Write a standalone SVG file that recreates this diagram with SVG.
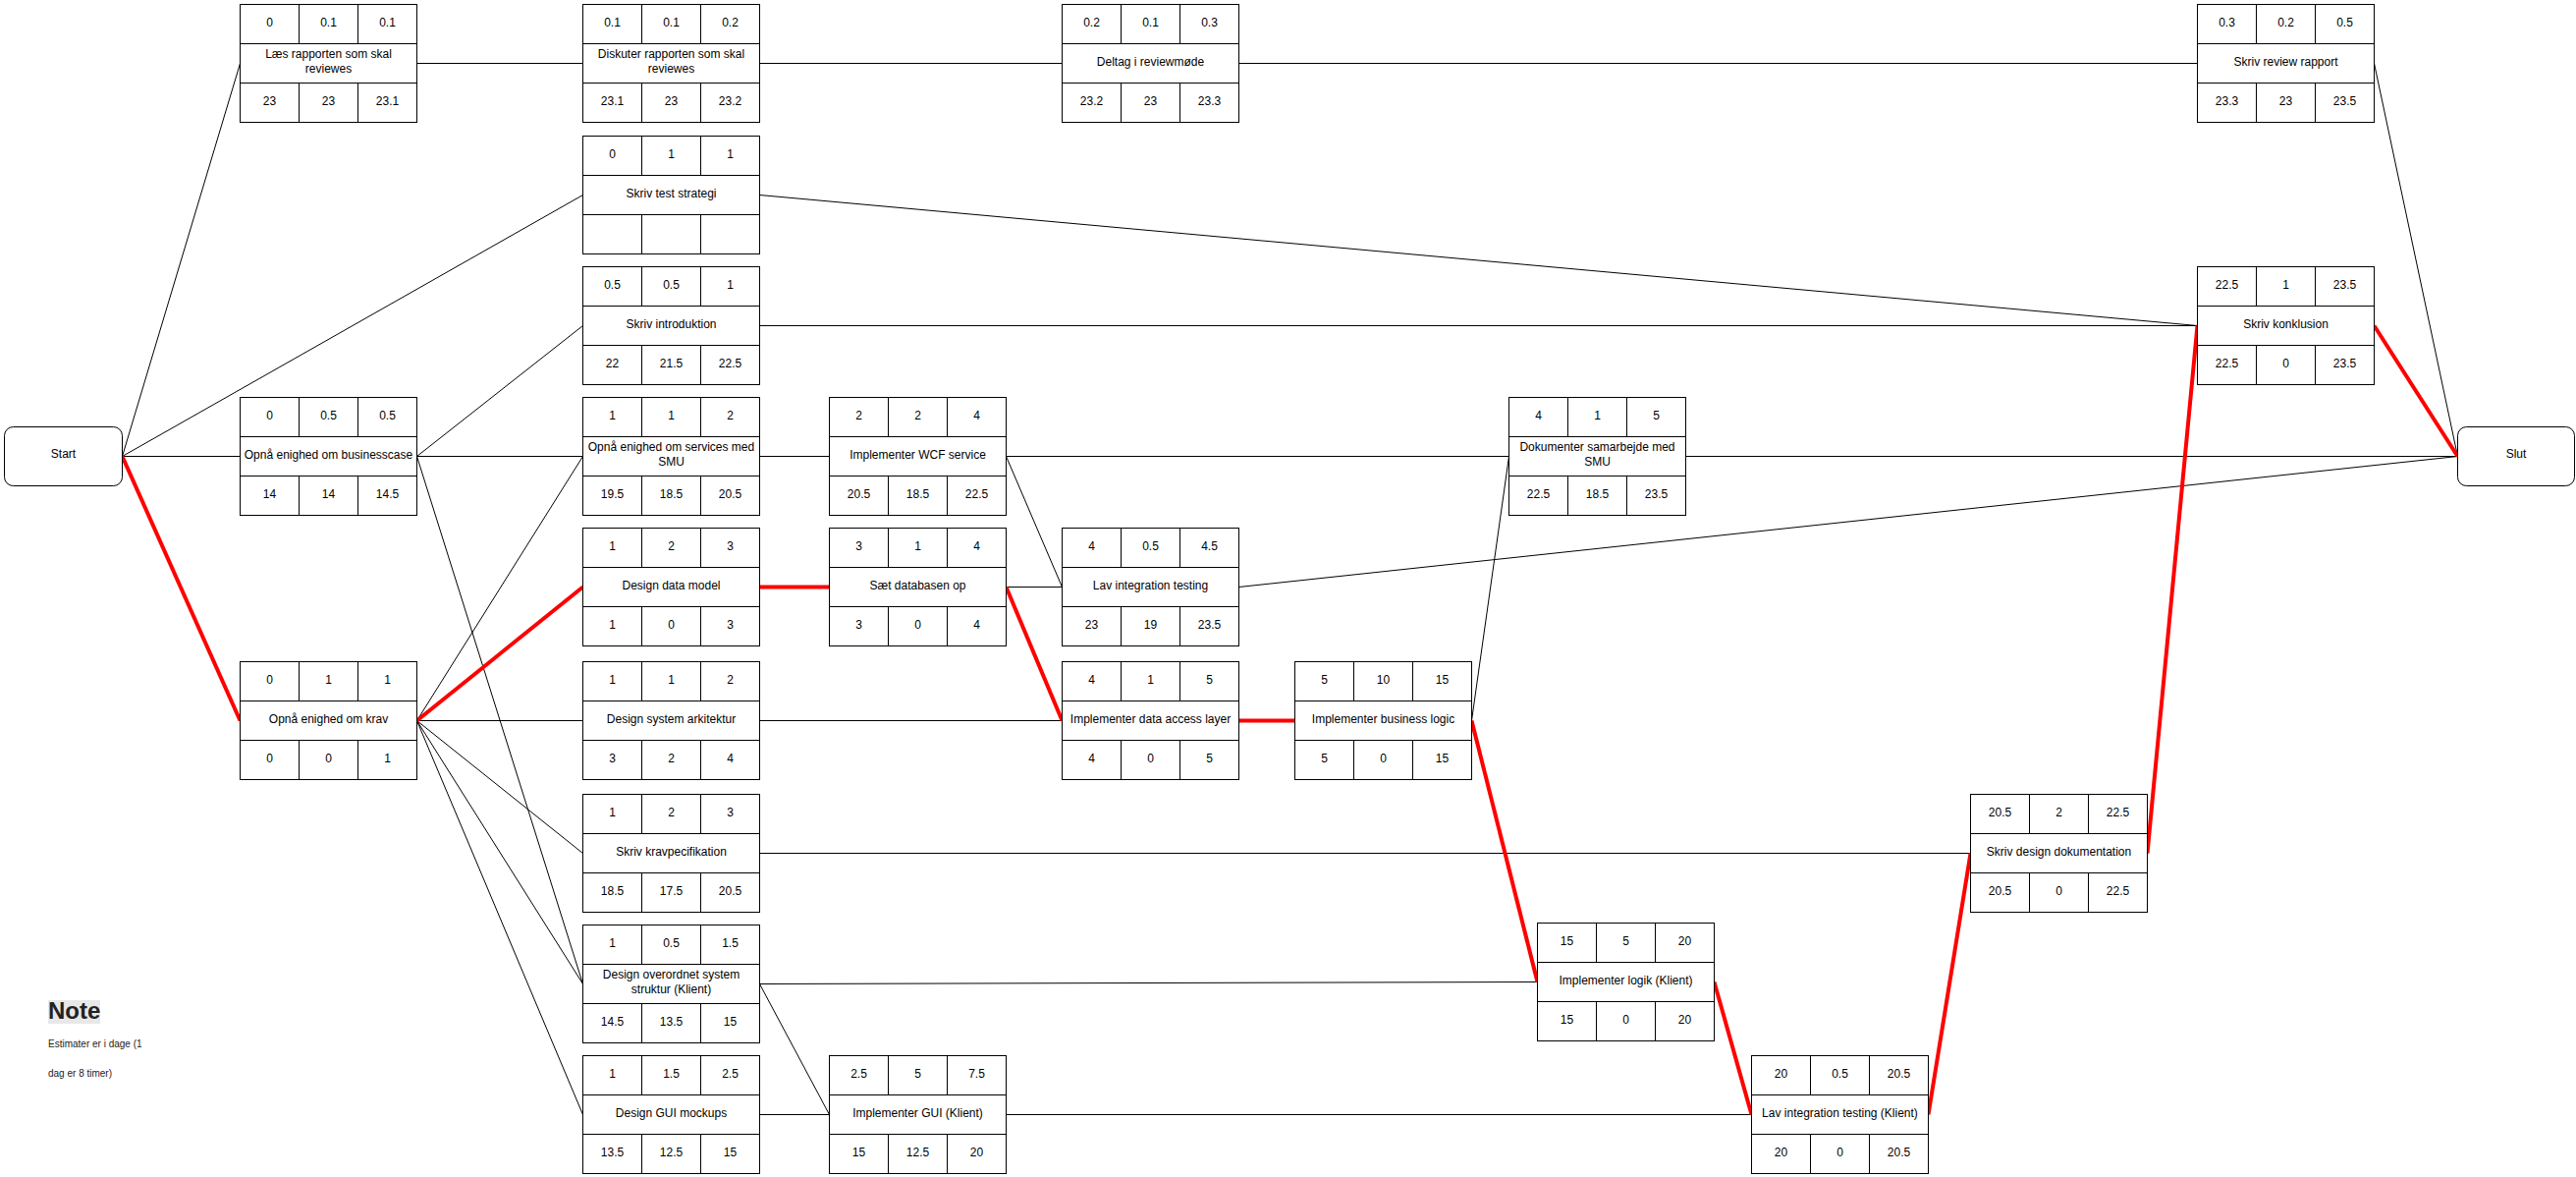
<svg xmlns="http://www.w3.org/2000/svg" xmlns:xlink="http://www.w3.org/1999/xlink" width="2623" height="1198" viewBox="0 0 2623 1198">
<style>
.box{fill:#fff;stroke:#000;stroke-width:1}
.div{fill:none;stroke:#000;stroke-width:1}
.t{font-family:"Liberation Sans",Arial,Helvetica,sans-serif;font-size:12px;text-anchor:middle;fill:#000}
.c{fill:none;stroke:#000;stroke-width:1}
.cr{fill:none;stroke:#ff0000;stroke-width:4}
.note{font-family:"Liberation Sans",Arial,Helvetica,sans-serif;fill:#222}
</style>
<defs>
<g id="frame">
<rect class="box" x="0" y="0" width="180" height="120"/>
<path class="div" d="M0 40H180M0 80H180M60 0V40M120 0V40M60 80V120M120 80V120"/>
</g>
</defs>
<rect width="2623" height="1198" fill="#fff"/>
<g id="connectors">
<path class="c" d="M124.5 464.5L244.5 64.5"/>
<path class="c" d="M124.5 464.5L593.5 198.5"/>
<path class="c" d="M124.5 464.5L244.5 464.5"/>
<path class="c" d="M424.5 464.5L593.5 331.5"/>
<path class="c" d="M424.5 464.5L593.5 464.5"/>
<path class="c" d="M424.5 464.5L593.5 1001.5"/>
<path class="c" d="M424.5 733.5L593.5 464.5"/>
<path class="c" d="M424.5 733.5L593.5 733.5"/>
<path class="c" d="M424.5 733.5L593.5 868.5"/>
<path class="c" d="M424.5 733.5L593.5 1001.5"/>
<path class="c" d="M424.5 733.5L593.5 1134.5"/>
<path class="c" d="M424.5 64.5L593.5 64.5"/>
<path class="c" d="M773.5 64.5L1081.5 64.5"/>
<path class="c" d="M1261.5 64.5L2237.5 64.5"/>
<path class="c" d="M2417.5 64.5L2502.5 464.5"/>
<path class="c" d="M773.5 198.5L2237.5 331.5"/>
<path class="c" d="M773.5 331.5L2237.5 331.5"/>
<path class="c" d="M773.5 464.5L844.5 464.5"/>
<path class="c" d="M1024.5 464.5L1536.5 464.5"/>
<path class="c" d="M1024.5 464.5L1081.5 597.5"/>
<path class="c" d="M1716.5 464.5L2502.5 464.5"/>
<path class="c" d="M1024.5 597.5L1081.5 597.5"/>
<path class="c" d="M1261.5 597.5L2502.5 464.5"/>
<path class="c" d="M773.5 733.5L1081.5 733.5"/>
<path class="c" d="M1498.5 733.5L1536.5 464.5"/>
<path class="c" d="M773.5 868.5L2006.5 868.5"/>
<path class="c" d="M773.5 1001.5L1565.5 999.5"/>
<path class="c" d="M773.5 1001.5L844.5 1134.5"/>
<path class="c" d="M773.5 1134.5L844.5 1134.5"/>
<path class="c" d="M1024.5 1134.5L1783.5 1134.5"/>
<path class="cr" d="M124.5 464.5L244.5 733.5"/>
<path class="cr" d="M424.5 733.5L593.5 597.5"/>
<path class="cr" d="M773.5 597.5L844.5 597.5"/>
<path class="cr" d="M1024.5 597.5L1081.5 733.5"/>
<path class="cr" d="M1261.5 733.5L1318.5 733.5"/>
<path class="cr" d="M1498.5 733.5L1565.5 999.5"/>
<path class="cr" d="M1745.5 999.5L1783.5 1134.5"/>
<path class="cr" d="M1963.5 1134.5L2006.5 868.5"/>
<path class="cr" d="M2186.5 868.5L2237.5 331.5"/>
<path class="cr" d="M2417.5 331.5L2502.5 464.5"/>
</g>
<g id="start">
<rect class="box" x="4.5" y="434.5" width="120" height="60" rx="9" ry="9"/>
<text class="t" x="64.5" y="466">Start</text>
</g>
<g id="slut">
<rect class="box" x="2502.5" y="434.5" width="119" height="60" rx="9" ry="9"/>
<text class="t" x="2562" y="466">Slut</text>
</g>
<g id="n-laes" transform="translate(244.5,4.5)">
<use xlink:href="#frame"/>
<text class="t" x="30" y="22">0</text><text class="t" x="90" y="22">0.1</text><text class="t" x="150" y="22">0.1</text>
<text class="t" x="90" y="54">Læs rapporten som skal</text><text class="t" x="90" y="69">reviewes</text>
<text class="t" x="30" y="102">23</text><text class="t" x="90" y="102">23</text><text class="t" x="150" y="102">23.1</text>
</g>
<g id="n-diskuter" transform="translate(593.5,4.5)">
<use xlink:href="#frame"/>
<text class="t" x="30" y="22">0.1</text><text class="t" x="90" y="22">0.1</text><text class="t" x="150" y="22">0.2</text>
<text class="t" x="90" y="54">Diskuter rapporten som skal</text><text class="t" x="90" y="69">reviewes</text>
<text class="t" x="30" y="102">23.1</text><text class="t" x="90" y="102">23</text><text class="t" x="150" y="102">23.2</text>
</g>
<g id="n-deltag" transform="translate(1081.5,4.5)">
<use xlink:href="#frame"/>
<text class="t" x="30" y="22">0.2</text><text class="t" x="90" y="22">0.1</text><text class="t" x="150" y="22">0.3</text>
<text class="t" x="90" y="62">Deltag i reviewmøde</text>
<text class="t" x="30" y="102">23.2</text><text class="t" x="90" y="102">23</text><text class="t" x="150" y="102">23.3</text>
</g>
<g id="n-review-rapport" transform="translate(2237.5,4.5)">
<use xlink:href="#frame"/>
<text class="t" x="30" y="22">0.3</text><text class="t" x="90" y="22">0.2</text><text class="t" x="150" y="22">0.5</text>
<text class="t" x="90" y="62">Skriv review rapport</text>
<text class="t" x="30" y="102">23.3</text><text class="t" x="90" y="102">23</text><text class="t" x="150" y="102">23.5</text>
</g>
<g id="n-test-strategi" transform="translate(593.5,138.5)">
<use xlink:href="#frame"/>
<text class="t" x="30" y="22">0</text><text class="t" x="90" y="22">1</text><text class="t" x="150" y="22">1</text>
<text class="t" x="90" y="62">Skriv test strategi</text>
</g>
<g id="n-introduktion" transform="translate(593.5,271.5)">
<use xlink:href="#frame"/>
<text class="t" x="30" y="22">0.5</text><text class="t" x="90" y="22">0.5</text><text class="t" x="150" y="22">1</text>
<text class="t" x="90" y="62">Skriv introduktion</text>
<text class="t" x="30" y="102">22</text><text class="t" x="90" y="102">21.5</text><text class="t" x="150" y="102">22.5</text>
</g>
<g id="n-konklusion" transform="translate(2237.5,271.5)">
<use xlink:href="#frame"/>
<text class="t" x="30" y="22">22.5</text><text class="t" x="90" y="22">1</text><text class="t" x="150" y="22">23.5</text>
<text class="t" x="90" y="62">Skriv konklusion</text>
<text class="t" x="30" y="102">22.5</text><text class="t" x="90" y="102">0</text><text class="t" x="150" y="102">23.5</text>
</g>
<g id="n-businesscase" transform="translate(244.5,404.5)">
<use xlink:href="#frame"/>
<text class="t" x="30" y="22">0</text><text class="t" x="90" y="22">0.5</text><text class="t" x="150" y="22">0.5</text>
<text class="t" x="90" y="62">Opnå enighed om businesscase</text>
<text class="t" x="30" y="102">14</text><text class="t" x="90" y="102">14</text><text class="t" x="150" y="102">14.5</text>
</g>
<g id="n-services" transform="translate(593.5,404.5)">
<use xlink:href="#frame"/>
<text class="t" x="30" y="22">1</text><text class="t" x="90" y="22">1</text><text class="t" x="150" y="22">2</text>
<text class="t" x="90" y="54">Opnå enighed om services med</text><text class="t" x="90" y="69">SMU</text>
<text class="t" x="30" y="102">19.5</text><text class="t" x="90" y="102">18.5</text><text class="t" x="150" y="102">20.5</text>
</g>
<g id="n-wcf" transform="translate(844.5,404.5)">
<use xlink:href="#frame"/>
<text class="t" x="30" y="22">2</text><text class="t" x="90" y="22">2</text><text class="t" x="150" y="22">4</text>
<text class="t" x="90" y="62">Implementer WCF service</text>
<text class="t" x="30" y="102">20.5</text><text class="t" x="90" y="102">18.5</text><text class="t" x="150" y="102">22.5</text>
</g>
<g id="n-dokumenter" transform="translate(1536.5,404.5)">
<use xlink:href="#frame"/>
<text class="t" x="30" y="22">4</text><text class="t" x="90" y="22">1</text><text class="t" x="150" y="22">5</text>
<text class="t" x="90" y="54">Dokumenter samarbejde med</text><text class="t" x="90" y="69">SMU</text>
<text class="t" x="30" y="102">22.5</text><text class="t" x="90" y="102">18.5</text><text class="t" x="150" y="102">23.5</text>
</g>
<g id="n-datamodel" transform="translate(593.5,537.5)">
<use xlink:href="#frame"/>
<text class="t" x="30" y="22">1</text><text class="t" x="90" y="22">2</text><text class="t" x="150" y="22">3</text>
<text class="t" x="90" y="62">Design data model</text>
<text class="t" x="30" y="102">1</text><text class="t" x="90" y="102">0</text><text class="t" x="150" y="102">3</text>
</g>
<g id="n-database" transform="translate(844.5,537.5)">
<use xlink:href="#frame"/>
<text class="t" x="30" y="22">3</text><text class="t" x="90" y="22">1</text><text class="t" x="150" y="22">4</text>
<text class="t" x="90" y="62">Sæt databasen op</text>
<text class="t" x="30" y="102">3</text><text class="t" x="90" y="102">0</text><text class="t" x="150" y="102">4</text>
</g>
<g id="n-integration" transform="translate(1081.5,537.5)">
<use xlink:href="#frame"/>
<text class="t" x="30" y="22">4</text><text class="t" x="90" y="22">0.5</text><text class="t" x="150" y="22">4.5</text>
<text class="t" x="90" y="62">Lav integration testing</text>
<text class="t" x="30" y="102">23</text><text class="t" x="90" y="102">19</text><text class="t" x="150" y="102">23.5</text>
</g>
<g id="n-krav" transform="translate(244.5,673.5)">
<use xlink:href="#frame"/>
<text class="t" x="30" y="22">0</text><text class="t" x="90" y="22">1</text><text class="t" x="150" y="22">1</text>
<text class="t" x="90" y="62">Opnå enighed om krav</text>
<text class="t" x="30" y="102">0</text><text class="t" x="90" y="102">0</text><text class="t" x="150" y="102">1</text>
</g>
<g id="n-arkitektur" transform="translate(593.5,673.5)">
<use xlink:href="#frame"/>
<text class="t" x="30" y="22">1</text><text class="t" x="90" y="22">1</text><text class="t" x="150" y="22">2</text>
<text class="t" x="90" y="62">Design system arkitektur</text>
<text class="t" x="30" y="102">3</text><text class="t" x="90" y="102">2</text><text class="t" x="150" y="102">4</text>
</g>
<g id="n-dataaccess" transform="translate(1081.5,673.5)">
<use xlink:href="#frame"/>
<text class="t" x="30" y="22">4</text><text class="t" x="90" y="22">1</text><text class="t" x="150" y="22">5</text>
<text class="t" x="90" y="62">Implementer data access layer</text>
<text class="t" x="30" y="102">4</text><text class="t" x="90" y="102">0</text><text class="t" x="150" y="102">5</text>
</g>
<g id="n-businesslogic" transform="translate(1318.5,673.5)">
<use xlink:href="#frame"/>
<text class="t" x="30" y="22">5</text><text class="t" x="90" y="22">10</text><text class="t" x="150" y="22">15</text>
<text class="t" x="90" y="62">Implementer business logic</text>
<text class="t" x="30" y="102">5</text><text class="t" x="90" y="102">0</text><text class="t" x="150" y="102">15</text>
</g>
<g id="n-kravspec" transform="translate(593.5,808.5)">
<use xlink:href="#frame"/>
<text class="t" x="30" y="22">1</text><text class="t" x="90" y="22">2</text><text class="t" x="150" y="22">3</text>
<text class="t" x="90" y="62">Skriv kravpecifikation</text>
<text class="t" x="30" y="102">18.5</text><text class="t" x="90" y="102">17.5</text><text class="t" x="150" y="102">20.5</text>
</g>
<g id="n-designdok" transform="translate(2006.5,808.5)">
<use xlink:href="#frame"/>
<text class="t" x="30" y="22">20.5</text><text class="t" x="90" y="22">2</text><text class="t" x="150" y="22">22.5</text>
<text class="t" x="90" y="62">Skriv design dokumentation</text>
<text class="t" x="30" y="102">20.5</text><text class="t" x="90" y="102">0</text><text class="t" x="150" y="102">22.5</text>
</g>
<g id="n-overordnet" transform="translate(593.5,941.5)">
<use xlink:href="#frame"/>
<text class="t" x="30" y="22">1</text><text class="t" x="90" y="22">0.5</text><text class="t" x="150" y="22">1.5</text>
<text class="t" x="90" y="54">Design overordnet system</text><text class="t" x="90" y="69">struktur (Klient)</text>
<text class="t" x="30" y="102">14.5</text><text class="t" x="90" y="102">13.5</text><text class="t" x="150" y="102">15</text>
</g>
<g id="n-logik" transform="translate(1565.5,939.5)">
<use xlink:href="#frame"/>
<text class="t" x="30" y="22">15</text><text class="t" x="90" y="22">5</text><text class="t" x="150" y="22">20</text>
<text class="t" x="90" y="62">Implementer logik (Klient)</text>
<text class="t" x="30" y="102">15</text><text class="t" x="90" y="102">0</text><text class="t" x="150" y="102">20</text>
</g>
<g id="n-mockups" transform="translate(593.5,1074.5)">
<use xlink:href="#frame"/>
<text class="t" x="30" y="22">1</text><text class="t" x="90" y="22">1.5</text><text class="t" x="150" y="22">2.5</text>
<text class="t" x="90" y="62">Design GUI mockups</text>
<text class="t" x="30" y="102">13.5</text><text class="t" x="90" y="102">12.5</text><text class="t" x="150" y="102">15</text>
</g>
<g id="n-gui" transform="translate(844.5,1074.5)">
<use xlink:href="#frame"/>
<text class="t" x="30" y="22">2.5</text><text class="t" x="90" y="22">5</text><text class="t" x="150" y="22">7.5</text>
<text class="t" x="90" y="62">Implementer GUI (Klient)</text>
<text class="t" x="30" y="102">15</text><text class="t" x="90" y="102">12.5</text><text class="t" x="150" y="102">20</text>
</g>
<g id="n-integration-klient" transform="translate(1783.5,1074.5)">
<use xlink:href="#frame"/>
<text class="t" x="30" y="22">20</text><text class="t" x="90" y="22">0.5</text><text class="t" x="150" y="22">20.5</text>
<text class="t" x="90" y="62">Lav integration testing (Klient)</text>
<text class="t" x="30" y="102">20</text><text class="t" x="90" y="102">0</text><text class="t" x="150" y="102">20.5</text>
</g>
<g id="note">
<rect x="49" y="1018" width="53" height="24" fill="#e8e8e8"/>
<text class="note" x="49" y="1037" font-size="24" font-weight="bold" fill="#000">Note</text>
<text class="note" x="49" y="1066" font-size="10">Estimater er i dage (1</text>
<text class="note" x="49" y="1096" font-size="10">dag er 8 timer)</text>
</g>
</svg>
